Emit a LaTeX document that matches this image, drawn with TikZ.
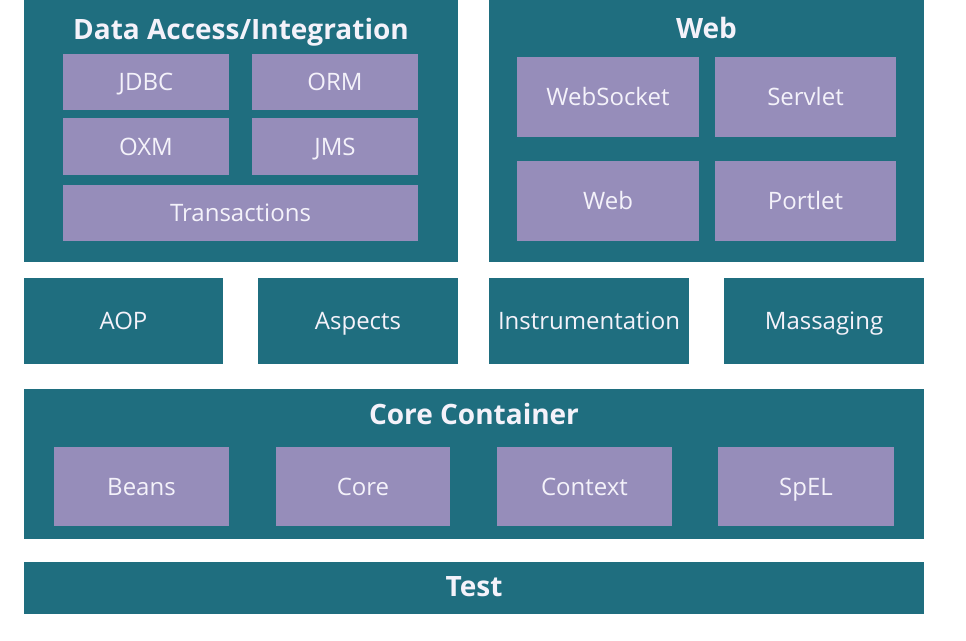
\documentclass[tikz,border=0pt]{standalone}
\usepackage{fontspec}
\setmainfont{Open Sans}
\definecolor{teal}{HTML}{1F6E7F}
\definecolor{lilac}{HTML}{968DBA}
\definecolor{lbl}{HTML}{F4F2FA}
\tikzset{
  panel/.style={fill=teal, draw=none, inner sep=0pt},
  module/.style={fill=lilac, draw=none, inner sep=0pt, text=lbl,
    font=\fontsize{24}{28}\selectfont, text height=17pt, text depth=0pt},
  tealmod/.style={panel, text=lbl,
    font=\fontsize{24}{28}\selectfont, text height=17pt, text depth=0pt},
  heading/.style={text=lbl, inner sep=0pt,
    font=\bfseries\fontsize{28}{32}\selectfont, text height=20pt, text depth=0pt},
}
\begin{document}
\begin{tikzpicture}[x=1pt, y=-1pt]
  \useasboundingbox[fill=white] (0,0) rectangle (966,640);

  % Data Access / Integration
  \node[panel, minimum width=434pt, minimum height=262pt] (dai) at (241,131) {};
  \node[heading] (daititle) at (241,29) {Data Access/Integration};
  \node[module, minimum width=166pt, minimum height=56pt] (jdbc) at (146,82) {JDBC};
  \node[module, minimum width=166pt, minimum height=56pt] (orm) at (335,82) {ORM};
  \node[module, minimum width=166pt, minimum height=57pt] (oxm) at (146,146.5) {OXM};
  \node[module, minimum width=166pt, minimum height=57pt] (jms) at (335,146.5) {JMS};
  \node[module, minimum width=355pt, minimum height=56pt] (tx) at (240.5,213) {Transactions};

  % Web
  \node[panel, minimum width=435pt, minimum height=262pt] (web) at (706.5,131) {};
  \node[heading] (webtitle) at (706.5,28) {Web};
  \node[module, minimum width=182pt, minimum height=80pt] (websocket) at (608,97) {WebSocket};
  \node[module, minimum width=181pt, minimum height=80pt] (servlet) at (805.5,97) {Servlet};
  \node[module, minimum width=182pt, minimum height=80pt] (webmod) at (608,201) {Web};
  \node[module, minimum width=181pt, minimum height=80pt] (portlet) at (805.5,201) {Portlet};

  % Middle row
  \node[tealmod, minimum width=199pt, minimum height=86pt] (aop) at (123.5,321) {AOP};
  \node[tealmod, minimum width=200pt, minimum height=86pt] (aspects) at (358,321) {Aspects};
  \node[tealmod, minimum width=200pt, minimum height=86pt] (instr) at (589,321) {Instrumentation};
  \node[tealmod, minimum width=200pt, minimum height=86pt] (msg) at (824,321) {Massaging};

  % Core Container
  \node[panel, minimum width=900pt, minimum height=150pt] (core) at (474,464) {};
  \node[heading] (coretitle) at (474,414) {Core Container};
  \node[module, minimum width=175pt, minimum height=79pt] (beans) at (141.5,486.5) {Beans};
  \node[module, minimum width=174pt, minimum height=79pt] (coremod) at (363,486.5) {Core};
  \node[module, minimum width=175pt, minimum height=79pt] (context) at (584.5,486.5) {Context};
  \node[module, minimum width=176pt, minimum height=79pt] (spel) at (806,486.5) {SpEL};

  % Test
  \node[panel, minimum width=900pt, minimum height=52pt] (test) at (474,588) {};
  \node[heading] (testtitle) at (474,586) {Test};
\end{tikzpicture}
\end{document}
